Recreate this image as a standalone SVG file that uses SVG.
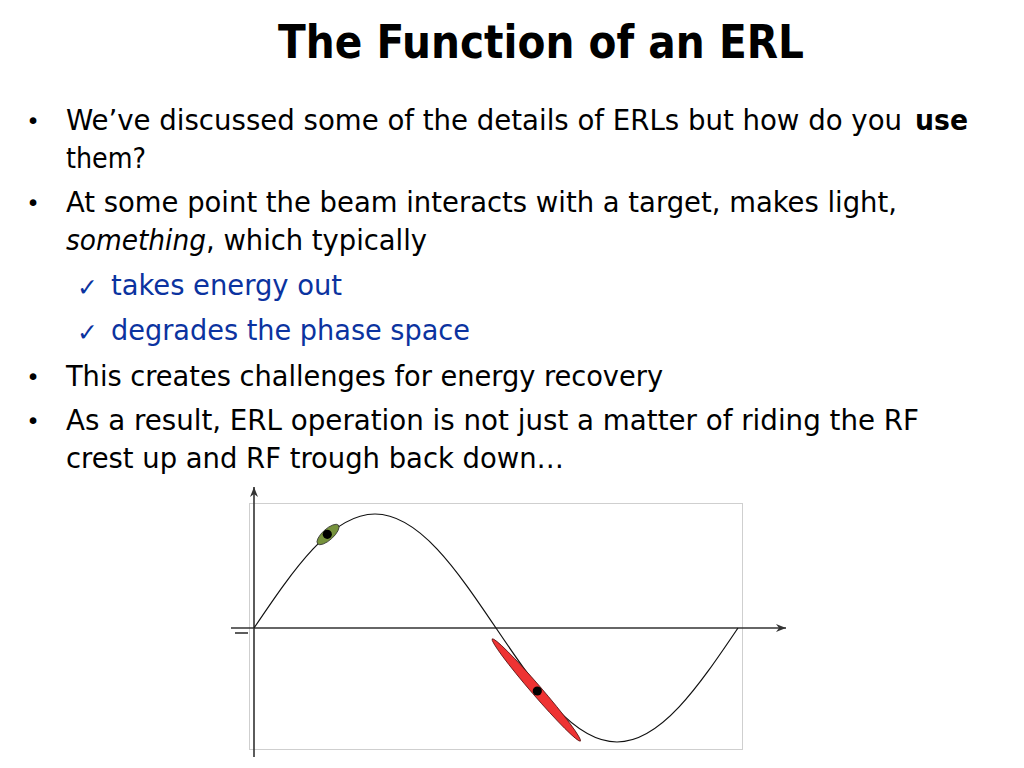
<svg xmlns="http://www.w3.org/2000/svg" width="1024" height="768" viewBox="0 0 1024 768">
<defs>
<style>
.t{font-family:'DejaVu Sans Condensed','DejaVu Sans',sans-serif;font-size:29px;fill:#000}
.b{font-weight:bold}
.i{font-style:italic}
.blue{fill:#0b33a0}
.bul{font-family:'DejaVu Sans',sans-serif;font-size:23px;fill:#000;text-anchor:middle}
.chk{font-family:'DejaVu Sans',sans-serif;font-size:25px;fill:#0b33a0}
.axis{stroke:#333;stroke-width:1.6;fill:none}
</style>
<marker id="arr" viewBox="0 0 10 8" refX="10" refY="4" markerWidth="10" markerHeight="8" markerUnits="userSpaceOnUse" orient="auto">
<path d="M0,0 L10,4 L0,8 L3,4 Z" fill="#333"/>
</marker>
</defs>
<rect width="1024" height="768" fill="#fff"/>
<g id="title">
<text x="278" y="58" font-family="'DejaVu Sans Condensed','DejaVu Sans',sans-serif" font-size="47" font-weight="bold" textLength="526" lengthAdjust="spacingAndGlyphs">The Function of an ERL</text>
</g>
<g id="bullets">
<text class="bul" x="33" y="129">•</text>
<text class="t" x="66" y="130" textLength="836" lengthAdjust="spacingAndGlyphs">We’ve discussed some of the details of ERLs but how do you</text>
<text class="t b" x="915" y="130" textLength="53" lengthAdjust="spacingAndGlyphs">use</text>
<text class="t" x="66" y="168" textLength="80" lengthAdjust="spacingAndGlyphs">them?</text>
<text class="bul" x="33" y="211">•</text>
<text class="t" x="66" y="212" textLength="831" lengthAdjust="spacingAndGlyphs">At some point the beam interacts with a target, makes light,</text>
<text class="t i" x="66" y="250" textLength="140" lengthAdjust="spacingAndGlyphs">something</text>
<text class="t" x="206" y="250" textLength="221" lengthAdjust="spacingAndGlyphs">, which typically</text>
<text class="chk" x="77" y="296">✓</text>
<text class="t blue" x="111" y="295" textLength="231" lengthAdjust="spacingAndGlyphs">takes energy out</text>
<text class="chk" x="77" y="341">✓</text>
<text class="t blue" x="111" y="340" textLength="359" lengthAdjust="spacingAndGlyphs">degrades the phase space</text>
<text class="bul" x="33" y="385">•</text>
<text class="t" x="66" y="386" textLength="597" lengthAdjust="spacingAndGlyphs">This creates challenges for energy recovery</text>
<text class="bul" x="33" y="429">•</text>
<text class="t" x="66" y="430" textLength="853" lengthAdjust="spacingAndGlyphs">As a result, ERL operation is not just a matter of riding the RF</text>
<text class="t" x="66" y="468" textLength="498" lengthAdjust="spacingAndGlyphs">crest up and RF trough back down…</text>
</g>
<g id="plot">
<rect x="249.5" y="503.5" width="493" height="246" fill="none" stroke="#cfcfcf" stroke-width="1"/>
<g id="axes">
<line class="axis" x1="254" y1="757" x2="254" y2="487" marker-end="url(#arr)"/>
<line class="axis" x1="231" y1="628" x2="786" y2="628" marker-end="url(#arr)"/>
<line class="axis" x1="235" y1="633" x2="248" y2="633"/>
</g>
<path id="rf-wave" d="M254,628 C293.46,569.6 331.21,514 375,514 C418.79,514 456.54,569.6 496,628 C535.46,686.4 573.21,742 617,742 C660.79,742 698.54,686.4 738,628" fill="none" stroke="#111" stroke-width="1.2"/>
<g id="bunch-accel">
<ellipse cx="328" cy="534.5" rx="14" ry="5.5" transform="rotate(-42 328 534.5)" fill="#76923c" stroke="#333" stroke-width="0.8"/>
<circle cx="327.3" cy="534.3" r="4.6" fill="#000"/>
</g>
<g id="bunch-decel">
<ellipse cx="536.3" cy="690" rx="67.5" ry="5" transform="rotate(49.2 536.3 690)" fill="#ee3333" stroke="#551111" stroke-width="0.8"/>
<circle cx="537.3" cy="691" r="4.6" fill="#000"/>
</g>
</g>
</svg>
